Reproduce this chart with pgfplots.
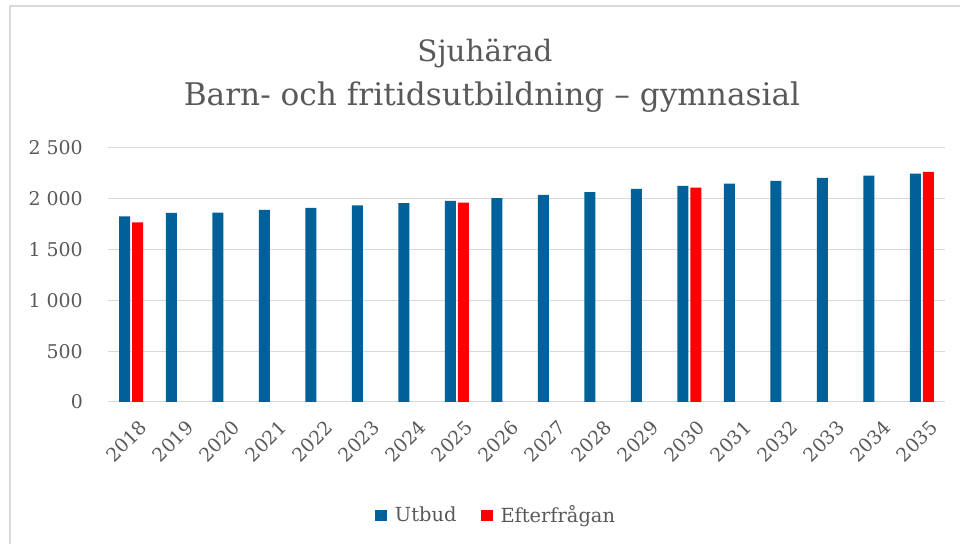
\documentclass[border=0pt]{standalone}
\usepackage{fontspec}
\setmainfont{DejaVu Serif}
\usepackage{pgfplots}
\usepackage{pgfplotstable}
\pgfplotsset{compat=1.18}
\definecolor{ubl}{RGB}{0,96,154}
\definecolor{ered}{RGB}{255,0,0}
\definecolor{txt}{RGB}{89,89,89}
\definecolor{grd}{RGB}{217,217,217}

\pgfplotstableread{
x y
0 1826
1 1862
2 1865
3 1891
4 1911
5 1934
6 1957
7 1980
8 2006
9 2038
10 2065
11 2097
12 2127
13 2149
14 2176
15 2205
16 2228
17 2247
}\utbud

\pgfplotstableread{
x y
0 1767
7 1963
12 2110
17 2264
}\efterfragan

\begin{document}
\begin{tikzpicture}[x=1bp,y=1bp]
\useasboundingbox (-108,-142) rectangle (852,402);
\draw[grd, line width=1.2bp] (-98,-142) -- (-98,396) -- (852,396);
\node[anchor=base, text=txt, font=\fontsize{29.5}{34}\selectfont] at (377,340) {Sjuhärad};
\node[anchor=base, text=txt, font=\fontsize{31.3}{36}\selectfont] at (384,296) {Barn- och fritidsutbildning – gymnasial};
\begin{axis}[
  at={(0,0)}, anchor=south west,
  scale only axis, width=837bp, height=254bp,
  xmin=-0.5, xmax=17.5, ymin=0, ymax=2500,
  axis line style={draw=none},
  tick style={draw=none},
  ytick={0,500,1000,1500,2000,2500},
  ymajorgrids, grid style={grd, line width=1bp},
  xtick={0,...,17},
  xticklabels={2018,2019,2020,2021,2022,2023,2024,2025,2026,2027,2028,2029,2030,2031,2032,2033,2034,2035},
  ticklabel style={text=txt, font=\fontsize{19}{22}\selectfont},
  x tick label style={rotate=45, anchor=north east, inner sep=0pt, xshift=-7bp, yshift=-17bp},
  y tick label style={anchor=east, inner sep=0pt, xshift=-25bp},
  /pgf/number format/.cd, 1000 sep={\ }, assume math mode=true,
  /pgfplots/.cd,
  legend columns=2,
  legend style={at={(0.4636,-0.445)}, anchor=center, draw=none, fill=none,
    text=txt, font=\fontsize{19.5}{22}\selectfont,
    /tikz/every odd column/.append style={column sep=6bp},
    /tikz/every even column/.append style={column sep=22bp}},
  legend image code/.code={\fill[#1] (0bp,-5.5bp) rectangle (12bp,5.5bp);},
]
\addplot[ybar, bar width=11bp, bar shift=-6.5bp, fill=ubl, draw=none] table[x=x,y=y] {\utbud};
\addlegendentry{Utbud}
\addplot[ybar, bar width=11bp, bar shift=6.5bp, fill=ered, draw=none] table[x=x,y=y] {\efterfragan};
\addlegendentry{Efterfrågan}
\end{axis}
\end{tikzpicture}
\end{document}
